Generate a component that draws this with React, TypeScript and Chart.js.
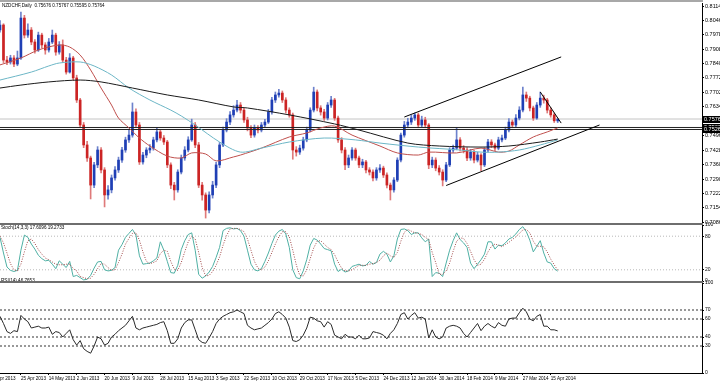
import React, { useEffect, useRef } from 'react';
import { Chart, registerables } from 'chart.js';

Chart.register(...registerables);

const FONT = '"Liberation Sans", Arial, sans-serif';

const SYMBOL_TITLE = 'NZDCHF,Daily  0.75676 0.75767 0.75595 0.75764';
const STOCH_TITLE = 'Stoch(14,3,3) 17.6096 19.2733';
const RSI_TITLE = 'RSI(14) 46.7653';

// ---- daily candles (one entry per bar) ----
const opens = [0.8000,0.8024,0.7857,0.7848,0.7867,0.7838,0.7867,0.8057,0.7976,0.8000,
 0.7943,0.7905,0.7976,0.7929,0.7905,0.7943,0.7976,0.7895,0.7929,0.7857,
 0.7800,0.7867,0.7772,0.7667,0.7548,0.7453,0.7391,0.7262,0.7358,0.7429,
 0.7334,0.7215,0.7239,0.7296,0.7334,0.7381,0.7429,0.7477,0.7500,0.7610,
 0.7548,0.7372,0.7405,0.7429,0.7438,0.7477,0.7515,0.7486,0.7467,0.7358,
 0.7262,0.7239,0.7324,0.7391,0.7429,0.7477,0.7548,0.7453,0.7262,0.7215,
 0.7143,0.7215,0.7262,0.7358,0.7453,0.7524,0.7562,0.7596,0.7619,0.7643,
 0.7619,0.7572,0.7534,0.7500,0.7534,0.7524,0.7548,0.7562,0.7610,0.7667,
 0.7691,0.7700,0.7667,0.7619,0.7596,0.7429,0.7419,0.7438,0.7477,0.7524,
 0.7619,0.7705,0.7629,0.7610,0.7581,0.7643,0.7667,0.7581,0.7477,0.7429,
 0.7358,0.7391,0.7429,0.7391,0.7358,0.7372,0.7334,0.7324,0.7296,0.7334,
 0.7343,0.7310,0.7262,0.7239,0.7286,0.7381,0.7500,0.7548,0.7562,0.7581,
 0.7596,0.7548,0.7572,0.7548,0.7358,0.7381,0.7343,0.7324,0.7286,0.7358,
 0.7429,0.7438,0.7477,0.7438,0.7429,0.7391,0.7419,0.7381,0.7405,0.7358,
 0.7429,0.7467,0.7453,0.7438,0.7477,0.7486,0.7524,0.7562,0.7548,0.7581,
 0.7619,0.7691,0.7676,0.7629,0.7581,0.7643,0.7676,0.7667,0.7619,0.7596,
 0.75676];
const highs = [0.8045,0.8030,0.7875,0.7880,0.7878,0.7900,0.8085,0.8070,0.8030,0.8012,
 0.7955,0.7990,0.7985,0.7940,0.7960,0.8000,0.7985,0.7945,0.7953,0.7870,
 0.7888,0.7875,0.7785,0.7675,0.7560,0.7470,0.7400,0.7370,0.7445,0.7440,
 0.7345,0.7260,0.7310,0.7350,0.7395,0.7442,0.7490,0.7528,0.7653,0.7625,
 0.7560,0.7418,0.7440,0.7455,0.7490,0.7534,0.7526,0.7498,0.7475,0.7368,
 0.7275,0.7335,0.7405,0.7445,0.7492,0.7576,0.7560,0.7465,0.7275,0.7225,
 0.7230,0.7280,0.7370,0.7465,0.7538,0.7578,0.7612,0.7640,0.7665,0.7655,
 0.7630,0.7585,0.7545,0.7548,0.7545,0.7560,0.7575,0.7622,0.7680,0.7705,
 0.7718,0.7710,0.7678,0.7630,0.7605,0.7445,0.7452,0.7490,0.7538,0.7630,
 0.7728,0.7715,0.7640,0.7622,0.7655,0.7685,0.7675,0.7590,0.7488,0.7440,
 0.7405,0.7440,0.7438,0.7400,0.7385,0.7380,0.7345,0.7335,0.7345,0.7360,
 0.7352,0.7320,0.7272,0.7298,0.7392,0.7510,0.7565,0.7580,0.7595,0.7605,
 0.7605,0.7590,0.7585,0.7555,0.7395,0.7392,0.7355,0.7335,0.7370,0.7440,
 0.7452,0.7534,0.7488,0.7450,0.7440,0.7432,0.7428,0.7418,0.7412,0.7440,
 0.7480,0.7478,0.7462,0.7490,0.7500,0.7538,0.7578,0.7572,0.7598,0.7635,
 0.7729,0.7705,0.7685,0.7638,0.7655,0.7705,0.7690,0.7675,0.7630,0.7605,
 0.75767];
const lows = [0.7990,0.7845,0.7835,0.7838,0.7826,0.7830,0.7860,0.7962,0.7965,0.7930,
 0.7890,0.7898,0.7915,0.7885,0.7895,0.7935,0.7880,0.7885,0.7845,0.7790,
 0.7795,0.7760,0.7655,0.7535,0.7440,0.7375,0.7196,0.7250,0.7345,0.7320,
 0.7158,0.7195,0.7225,0.7285,0.7322,0.7370,0.7418,0.7465,0.7490,0.7535,
 0.7360,0.7362,0.7392,0.7415,0.7428,0.7468,0.7475,0.7455,0.7345,0.7245,
 0.7191,0.7228,0.7315,0.7380,0.7420,0.7470,0.7440,0.7250,0.7190,0.7105,
 0.7130,0.7200,0.7250,0.7345,0.7445,0.7515,0.7550,0.7585,0.7610,0.7605,
 0.7560,0.7520,0.7488,0.7490,0.7510,0.7515,0.7538,0.7555,0.7600,0.7655,
 0.7680,0.7655,0.7605,0.7585,0.7385,0.7400,0.7408,0.7428,0.7468,0.7515,
 0.7610,0.7615,0.7595,0.7570,0.7572,0.7632,0.7570,0.7465,0.7415,0.7335,
 0.7345,0.7380,0.7380,0.7345,0.7345,0.7320,0.7310,0.7282,0.7285,0.7322,
 0.7298,0.7248,0.7191,0.7228,0.7278,0.7372,0.7490,0.7535,0.7550,0.7570,
 0.7535,0.7540,0.7535,0.7340,0.7345,0.7330,0.7310,0.7258,0.7278,0.7350,
 0.7418,0.7430,0.7425,0.7415,0.7378,0.7380,0.7368,0.7372,0.7330,0.7350,
 0.7420,0.7440,0.7425,0.7430,0.7468,0.7478,0.7515,0.7535,0.7540,0.7572,
 0.7610,0.7660,0.7615,0.7570,0.7575,0.7632,0.7652,0.7605,0.7585,0.7560,
 0.75595];
const closes = [0.8024,0.7857,0.7848,0.7867,0.7838,0.7867,0.8057,0.7976,0.8000,0.7943,
 0.7905,0.7976,0.7929,0.7905,0.7943,0.7976,0.7895,0.7929,0.7857,0.7800,
 0.7867,0.7772,0.7667,0.7548,0.7453,0.7391,0.7262,0.7358,0.7429,0.7334,
 0.7215,0.7239,0.7296,0.7334,0.7381,0.7429,0.7477,0.7500,0.7610,0.7548,
 0.7372,0.7405,0.7429,0.7438,0.7477,0.7515,0.7486,0.7467,0.7358,0.7262,
 0.7239,0.7324,0.7391,0.7429,0.7477,0.7548,0.7453,0.7262,0.7215,0.7143,
 0.7215,0.7262,0.7358,0.7453,0.7524,0.7562,0.7596,0.7619,0.7643,0.7619,
 0.7572,0.7534,0.7500,0.7534,0.7524,0.7548,0.7562,0.7610,0.7667,0.7691,
 0.7700,0.7667,0.7619,0.7596,0.7429,0.7419,0.7438,0.7477,0.7524,0.7619,
 0.7705,0.7629,0.7610,0.7581,0.7643,0.7667,0.7581,0.7477,0.7429,0.7358,
 0.7391,0.7429,0.7391,0.7358,0.7372,0.7334,0.7324,0.7296,0.7334,0.7343,
 0.7310,0.7262,0.7239,0.7286,0.7381,0.7500,0.7548,0.7562,0.7581,0.7596,
 0.7548,0.7572,0.7548,0.7358,0.7381,0.7343,0.7324,0.7286,0.7358,0.7429,
 0.7438,0.7477,0.7438,0.7429,0.7391,0.7419,0.7381,0.7405,0.7358,0.7429,
 0.7467,0.7453,0.7438,0.7477,0.7486,0.7524,0.7562,0.7548,0.7581,0.7619,
 0.7691,0.7676,0.7629,0.7581,0.7643,0.7676,0.7667,0.7619,0.7596,0.7568,
 0.75764];

// ---- moving averages (bar index, value) ----
const maRedIdx = [0,6,11,17,20,23,26,29,32,34,37,40,43,48,52,55,59,62,67,69,75,83,88,92,96,101,109,114,120,123,131,138,143,146,149,153,157,160];
const maRed = [0.7834,0.7867,0.7905,0.7929,0.7919,0.7881,0.7810,0.7724,0.7643,0.7581,0.7534,0.7486,0.7448,0.7400,0.7391,0.7415,0.7410,0.7377,0.7396,0.7405,0.7438,0.7491,0.7510,0.7534,0.7543,0.7500,0.7448,0.7415,0.7405,0.7419,0.7415,0.7438,0.7419,0.7424,0.7453,0.7491,0.7515,0.7534];
const maTealIdx = [0,9,14,17,23,27,32,37,43,49,52,56,63,69,75,83,93,102,109,120,132,138,143,149,155,160];
const maTeal = [0.7762,0.7800,0.7829,0.7843,0.7848,0.7829,0.7786,0.7724,0.7667,0.7619,0.7591,0.7548,0.7467,0.7419,0.7438,0.7467,0.7486,0.7477,0.7462,0.7443,0.7429,0.7419,0.7419,0.7429,0.7453,0.7477];
const maBlackIdx = [0,6,14,23,29,38,48,57,67,71,83,96,103,117,126,138,146,155,160];
const maBlack = [0.7724,0.7738,0.7753,0.7762,0.7753,0.7724,0.7691,0.7667,0.7634,0.7629,0.7596,0.7553,0.7524,0.7462,0.7448,0.7443,0.7448,0.7467,0.7481];

// ---- drawn trend lines: [idx1, price1, idx2, price2] ----
const trendUpper = [116, 0.7586, 161, 0.7872];
const trendLower = [128, 0.7260, 172, 0.7548];
const trendTriangle = [155, 0.7705, 161, 0.7557];
const blackLevels = [0.75361, 0.75266];
const bidPrice = 0.75764;
const priceMarkers = ['0.75764', '0.75361', '0.75266'];

// ---- oscillators (one per bar) ----
const stochMain = [78,50,25,19,17,19,55,82,78,66,
 57,46,40,36,37,30,22,36,30,24,
 35,8,10,6,2,3,10,23,34,35,
 20,18,19,24,55,65,78,85,92,82,
 45,30,31,32,36,41,70,55,35,15,
 14,28,56,72,83,86,55,12,5,9,
 16,26,42,60,90,94,95,93,94,90,
 80,55,30,20,18,22,35,50,67,82,
 89,92,84,60,20,6,4,18,38,64,
 76,73,66,58,56,54,30,17,21,16,
 18,26,28,30,27,28,35,30,33,48,
 53,48,34,45,75,92,93,90,83,86,
 86,77,70,75,8,15,14,8,32,55,
 72,86,74,68,60,32,22,30,38,48,
 70,70,57,64,63,68,75,78,84,92,
 97,88,73,52,62,72,50,34,32,22,
 17.61];
const stochSignal = [80,68,50,31,20,18,30,52,72,75,
 67,56,48,41,38,34,30,29,29,30,
 30,22,18,8,6,4,5,12,22,31,
 30,24,19,20,33,48,66,76,85,86,
 73,52,35,31,33,36,49,55,53,35,
 21,19,33,52,70,80,75,51,24,9,
 10,17,28,43,64,81,93,94,94,92,
 88,75,55,35,23,20,25,36,51,66,
 79,88,88,79,55,29,10,9,20,40,
 59,71,72,66,60,56,47,34,23,18,
 18,20,24,28,28,28,30,31,33,37,
 45,50,45,42,51,71,87,92,89,86,
 85,83,78,74,51,33,12,12,18,32,
 53,71,77,76,67,53,38,28,30,39,
 52,62,66,64,61,65,69,74,79,85,
 91,92,86,71,62,62,61,52,39,29,
 19.27];
const rsiValues = [63,55,46,44,47,46,64,60,57,50,
 51,52,50,50,51,43,46,45,40,44,
 48,37,31,36,27,24,22,30,40,38,
 31,33,40,43,47,50,53,58,63,50,
 48,50,51,52,53,54,56,57,47,33,
 33,38,50,56,59,59,48,37,34,33,
 39,46,55,60,63,65,67,68,70,68,
 66,53,50,48,49,50,53,56,60,66,
 68,65,61,51,36,35,37,42,50,62,
 61,58,57,51,57,54,42,40,38,43,
 40,40,38,42,38,38,39,46,45,44,
 42,38,44,48,55,65,67,60,64,67,
 61,62,60,39,48,40,38,40,50,52,
 53,52,50,44,40,45,50,55,47,52,
 55,52,50,56,53,52,60,61,61,67,
 72,68,60,58,63,65,52,52,48,48,
 46.77];

const stochLevels = [20, 80];
const rsiLevels = [30, 40, 60, 70];
const stochTicks = [0, 20, 80, 100];
const rsiTicks = [0, 30, 40, 60, 70, 100];

const priceTickLabels = ['0.70860','0.71540','0.72220','0.72900','0.73600','0.74280','0.74960','0.75640','0.76340','0.77020','0.77720','0.78400','0.79080','0.79780','0.80460','0.81140'];

const dateLabels = ['6 Apr 2013','25 Apr 2013','14 May 2013','2 Jun 2013','20 Jun 2013','9 Jul 2013','28 Jul 2013','15 Aug 2013','3 Sep 2013','22 Sep 2013','10 Oct 2013','29 Oct 2013','17 Nov 2013','5 Dec 2013','24 Dec 2013','12 Jan 2014','30 Jan 2014','18 Feb 2014','9 Mar 2014','27 Mar 2014','15 Apr 2014'];
const dateIdx = [-2,6,14,22,30,38,46,54,62,70,78,86,94,102,110,118,126,134,142,150,158];

const X_MAX = 201.4;
const BULL = '#1f3fb5';
const BEAR = '#cc2424';
const BULL_WICK = '#6d82cc';
const BEAR_WICK = '#df7a7a';

function textPlugin(id: string, text: string, x: number, y: number, size: number) {
  return {
    id,
    afterDraw(chart: any) {
      const ctx = chart.ctx;
      ctx.save();
      ctx.fillStyle = '#000';
      ctx.textAlign = 'left';
      ctx.textBaseline = 'top';
      ctx.font = `${size}px ${FONT}`;
      ctx.fillText(text, x, y);
      ctx.restore();
    },
  };
}

const markerPlugin = {
  id: 'markers',
  afterDraw(chart: any) {
    const ctx = chart.ctx;
    const y = chart.scales.y;
    ctx.save();
    ctx.font = `5.5px ${FONT}`;
    ctx.textBaseline = 'middle';
    ctx.textAlign = 'left';
    for (const m of priceMarkers) {
      const py = y.getPixelForValue(Number(m));
      ctx.fillStyle = '#000';
      ctx.fillRect(703, Math.round(py) - 3, 17, 7);
      ctx.fillStyle = '#fff';
      ctx.fillText(m, 704, Math.round(py) + 0.5);
    }
    ctx.restore();
  },
};

function rightAxis(min: number, max: number, values: number[], labels: string[], fontSize: number) {
  return {
    position: 'right',
    min,
    max,
    afterBuildTicks: (s: any) => {
      s.ticks = values.map((v) => ({ value: v }));
    },
    afterFit: (s: any) => {
      s.width = 18;
      s.paddingTop = 0;
      s.paddingBottom = 0;
    },
    ticks: {
      autoSkip: false,
      padding: 1,
      color: '#000',
      font: { size: fontSize, family: FONT },
      callback: (_v: any, i: number) => labels[i],
    },
    grid: { display: true, drawOnChartArea: false, drawTicks: true, tickLength: 2, color: '#000' },
    border: { display: true, color: '#000', width: 1 },
  };
}

const hiddenX = { type: 'linear', min: 0, max: X_MAX, offset: false, display: false };

function flatLine(v: number, color: string, dash: number[], order: number) {
  return {
    type: 'line',
    data: [{ x: 0, y: v }, { x: X_MAX, y: v }],
    borderColor: color,
    borderWidth: 1,
    borderDash: dash,
    pointRadius: 0,
    order,
  };
}

function segment(t: number[], order: number) {
  return {
    type: 'line',
    data: [{ x: t[0], y: t[1] }, { x: t[2], y: t[3] }],
    borderColor: '#000',
    borderWidth: 1,
    pointRadius: 0,
    order,
  };
}

function maLine(idx: number[], vals: number[], color: string) {
  return {
    type: 'line',
    data: idx.map((x, k) => ({ x, y: vals[k] })),
    borderColor: color,
    borderWidth: 1,
    pointRadius: 0,
    tension: 0.3,
    order: 5,
  };
}

const common = {
  responsive: false,
  animation: false,
  devicePixelRatio: 1,
  events: [],
  plugins: { legend: { display: false }, tooltip: { enabled: false } },
};

export default function App() {
  const mainRef = useRef<HTMLCanvasElement>(null);
  const stochRef = useRef<HTMLCanvasElement>(null);
  const rsiRef = useRef<HTMLCanvasElement>(null);

  useEffect(() => {
    const charts: Chart[] = [];
    const up = closes.map((c, i) => c >= opens[i]);

    charts.push(
      new Chart(mainRef.current as HTMLCanvasElement, {
        type: 'bar',
        data: {
          datasets: [
            {
              type: 'bar',
              data: highs.map((h, i) => ({ x: i, y: [lows[i], h] })),
              backgroundColor: up.map((u) => (u ? BULL_WICK : BEAR_WICK)),
              barThickness: 1,
              grouped: false,
              order: 12,
            },
            {
              type: 'bar',
              data: opens.map((o, i) => ({ x: i, y: [o, closes[i]] })),
              backgroundColor: up.map((u) => (u ? BULL : BEAR)),
              barThickness: 2,
              minBarLength: 1,
              grouped: false,
              order: 11,
            },
            flatLine(bidPrice, '#c4c4c4', [], 13),
            flatLine(blackLevels[0], '#222', [], 6),
            flatLine(blackLevels[1], '#222', [], 6),
            maLine(maBlackIdx, maBlack, '#1a1a1a'),
            maLine(maTealIdx, maTeal, '#6cb6c6'),
            maLine(maRedIdx, maRed, '#bf4f4c'),
            segment(trendUpper, 1),
            segment(trendLower, 1),
            segment(trendTriangle, 1),
          ] as any,
        },
        options: {
          ...common,
          layout: { padding: { top: 3, bottom: 7, left: 0, right: 0 } },
          scales: {
            x: hiddenX,
            y: rightAxis(0.70815, 0.81287, priceTickLabels.map(Number), priceTickLabels, 5.5),
          },
        } as any,
        plugins: [textPlugin('t1', SYMBOL_TITLE, 2, 3.5, 4.6), markerPlugin],
      })
    );

    charts.push(
      new Chart(stochRef.current as HTMLCanvasElement, {
        type: 'line',
        data: {
          datasets: [
            ...stochLevels.map((l) => flatLine(l, '#b8b8b8', [1, 2], 10)),
            {
              type: 'line',
              data: stochSignal.map((v, i) => ({ x: i, y: v })),
              borderColor: '#a04848',
              borderWidth: 1,
              borderDash: [1, 1.5],
              pointRadius: 0,
              order: 2,
            },
            {
              type: 'line',
              data: stochMain.map((v, i) => ({ x: i, y: v })),
              borderColor: '#4fb0a4',
              borderWidth: 1,
              pointRadius: 0,
              order: 3,
            },
          ] as any,
        },
        options: {
          ...common,
          layout: { padding: { top: 6, bottom: 6, left: 0, right: 0 } },
          scales: {
            x: hiddenX,
            y: rightAxis(0, 100, stochTicks, stochTicks.map(String), 5),
          },
        } as any,
        plugins: [textPlugin('t2', STOCH_TITLE, 1, 6.8, 4.6)],
      })
    );

    charts.push(
      new Chart(rsiRef.current as HTMLCanvasElement, {
        type: 'line',
        data: {
          datasets: [
            ...rsiLevels.map((l) => flatLine(l, '#333', [2, 2], 10)),
            {
              type: 'line',
              data: rsiValues.map((v, i) => ({ x: i, y: v })),
              borderColor: '#2a2a2a',
              borderWidth: 1,
              pointRadius: 0,
              order: 2,
            },
          ] as any,
        },
        options: {
          ...common,
          layout: { padding: { top: 7, bottom: 0, left: 0, right: 0 } },
          scales: {
            x: {
              type: 'linear',
              min: 0,
              max: X_MAX,
              offset: false,
              position: 'bottom',
              afterBuildTicks: (s: any) => {
                s.ticks = dateIdx.map((v) => ({ value: v }));
              },
              afterFit: (s: any) => {
                s.height = 8;
                s.paddingLeft = 0;
                s.paddingRight = 0;
              },
              ticks: {
                autoSkip: false,
                maxRotation: 0,
                minRotation: 0,
                align: 'start',
                padding: 0.5,
                color: '#000',
                font: { size: 4.6, family: FONT },
                callback: (_v: any, i: number) => dateLabels[i],
              },
              grid: { display: true, drawOnChartArea: false, drawTicks: true, tickLength: 2, color: '#000' },
              border: { display: true, color: '#000', width: 1 },
            },
            y: rightAxis(0, 100, rsiTicks, rsiTicks.map(String), 5),
          },
        } as any,
        plugins: [textPlugin('t3', RSI_TITLE, 1, 2.5, 4.6)],
      })
    );

    return () => charts.forEach((c) => c.destroy());
  }, []);

  const sep = (top: number, color: string) => (
    <div style={{ position: 'absolute', left: 0, top, width: 703, height: 2, background: color }} />
  );

  return (
    <div style={{ position: 'fixed', left: 0, top: 0, width: 720, height: 381, overflow: 'hidden', background: '#fff' }}>
      <canvas ref={mainRef} width={720} height={230} style={{ position: 'absolute', left: 0, top: 0 }} />
      <canvas ref={stochRef} width={720} height={68} style={{ position: 'absolute', left: 0, top: 219 }} />
      <canvas ref={rsiRef} width={720} height={105} style={{ position: 'absolute', left: 0, top: 276 }} />
      {sep(0, '#a8a8a8')}
      {sep(223, '#6e6e6e')}
      {sep(281, '#6e6e6e')}
    </div>
  );
}
